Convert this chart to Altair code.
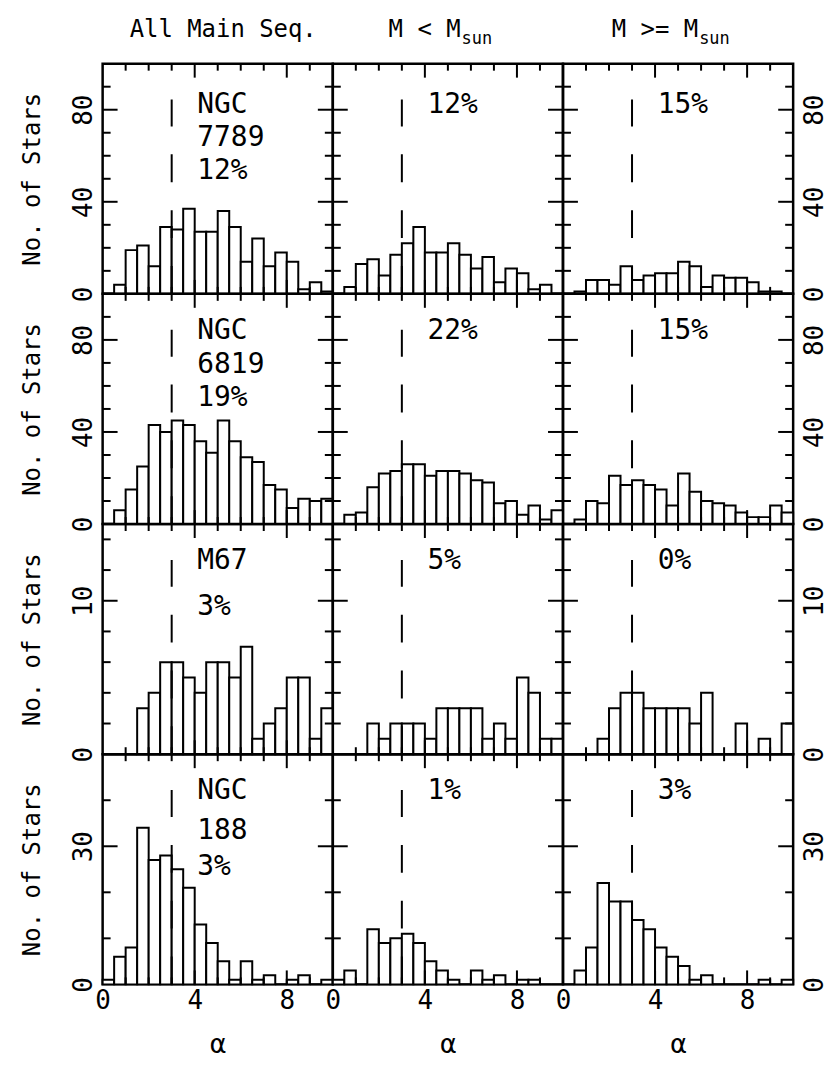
import altair as alt
import pandas as pd

FONT = "DejaVu Sans Mono"

bin_start = [i * 0.5 for i in range(20)]
bin_end = [i * 0.5 + 0.5 for i in range(20)]

ngc7789_all = [0, 4, 19, 21, 12, 29, 28, 37, 27, 27, 36, 29, 14, 24, 12, 18, 14, 2, 5, 1]
ngc7789_low = [0, 3, 13, 15, 8, 17, 22, 29, 18, 18, 22, 17, 11, 16, 5, 11, 9, 2, 4, 0]
ngc7789_high = [0, 1, 6, 6, 4, 12, 6, 8, 9, 9, 14, 12, 3, 8, 7, 7, 5, 1, 1, 0]

ngc6819_all = [0, 6, 15, 25, 43, 40, 45, 43, 36, 31, 45, 36, 29, 27, 17, 15, 7, 11, 10, 11]
ngc6819_low = [0, 4, 5, 16, 22, 23, 26, 26, 21, 23, 23, 22, 19, 18, 9, 10, 4, 8, 2, 6]
ngc6819_high = [0, 2, 10, 9, 21, 17, 19, 17, 15, 8, 22, 14, 10, 9, 8, 5, 3, 3, 8, 5]

m67_all = [0, 0, 0, 3, 4, 6, 6, 5, 4, 6, 6, 5, 7, 1, 2, 3, 5, 5, 1, 3]
m67_low = [0, 0, 0, 2, 1, 2, 2, 2, 1, 3, 3, 3, 3, 1, 2, 1, 5, 4, 1, 1]
m67_high = [0, 0, 0, 1, 3, 4, 4, 3, 3, 3, 3, 2, 4, 0, 0, 2, 0, 1, 0, 2]

ngc188_all = [1, 6, 8, 34, 27, 28, 25, 21, 13, 9, 5, 1, 5, 1, 2, 0, 1, 2, 0, 1]
ngc188_low = [1, 3, 0, 12, 9, 10, 11, 9, 5, 3, 1, 0, 3, 1, 2, 0, 1, 1, 0, 0]
ngc188_high = [0, 3, 8, 22, 18, 18, 14, 12, 8, 6, 4, 1, 2, 0, 0, 0, 0, 1, 0, 1]

counts = [
    [ngc7789_all, ngc7789_low, ngc7789_high],
    [ngc6819_all, ngc6819_low, ngc6819_high],
    [m67_all, m67_low, m67_high],
    [ngc188_all, ngc188_low, ngc188_high],
]

annotations = [
    [["NGC", "7789", "12%"], ["12%"], ["15%"]],
    [["NGC", "6819", "19%"], ["22%"], ["15%"]],
    [["M67", "3%"], ["5%"], ["0%"]],
    [["NGC", "188", "3%"], ["1%"], ["3%"]],
]

y_max = [100, 100, 15, 50]
y_labels = [[0, 40, 80], [0, 40, 80], [0, 10], [0, 30]]
y_minor = [[10, 20, 30, 50, 60, 70, 90], [10, 20, 30, 50, 60, 70, 90],
           [2, 4, 6, 8, 12, 14], [10, 20, 40]]
y_major = [[40, 80], [40, 80], [10], [30]]
x_labels = [0, 4, 8]
x_minor = [1, 2, 3, 5, 6, 7, 9]
x_major = [4, 8]
alpha_cut = 3

W = 231
H = 231
text_rows = [[41, 75, 108], [37, 71, 105], [37, 83], [37, 77, 113]]


def panel(r, c):
    df = pd.DataFrame({"lo": bin_start, "hi": bin_end, "n": counts[r][c]})
    xs = alt.Scale(domain=[0, 10], nice=False, zero=False)
    ys = alt.Scale(domain=[0, y_max[r]], nice=False)

    if r == 3:
        xkw = dict(title="α",
                   axis=alt.Axis(values=x_labels, ticks=False, domain=False, grid=False,
                                 labelFontSize=26, labelPadding=3, labelFlush=False,
                                 labelFont=FONT, titleFont=FONT, titleFontSize=27,
                                 titleFontWeight="normal", titlePadding=18, format="d",
                                 labelColor="black", titleColor="black"))
    else:
        xkw = dict(axis=None)

    if c == 0:
        ykw = dict(title="No. of Stars",
                   axis=alt.Axis(orient="left", values=y_labels[r], ticks=False, domain=False,
                                 grid=False, labelAngle=270, labelAlign="center",
                                 labelBaseline="bottom", labelFontSize=26, labelPadding=6,
                                 labelFlush=False, labelFont=FONT, titleFont=FONT,
                                 titleFontSize=24, titleFontWeight="normal", titlePadding=26,
                                 format="d", labelColor="black", titleColor="black"))
    elif c == 2:
        ykw = dict(title="",
                   axis=alt.Axis(orient="right", values=y_labels[r], ticks=False, domain=False,
                                 grid=False, labelAngle=270, labelAlign="center",
                                 labelBaseline="top", labelFontSize=26, labelPadding=8,
                                 labelFlush=False, labelFont=FONT, format="d",
                                 labelColor="black"))
    else:
        ykw = dict(axis=None)

    ticks = []
    for vals, ln in ((x_minor, 7), (x_major, 14)):
        d = pd.DataFrame({"t": vals})
        ticks.append(alt.Chart(d).mark_rule(color="black", strokeWidth=2).encode(
            x=alt.X("t:Q", scale=xs, **xkw), y=alt.value(H), y2=alt.value(H - ln)))
        ticks.append(alt.Chart(d).mark_rule(color="black", strokeWidth=2).encode(
            x=alt.X("t:Q", scale=xs, **xkw), y=alt.value(0), y2=alt.value(ln)))
    for vals, ln in ((y_minor[r], 8), (y_major[r], 15)):
        d = pd.DataFrame({"t": vals})
        ticks.append(alt.Chart(d).mark_rule(color="black", strokeWidth=2).encode(
            y=alt.Y("t:Q", scale=ys, **ykw), x=alt.value(0), x2=alt.value(ln)))
        ticks.append(alt.Chart(d).mark_rule(color="black", strokeWidth=2).encode(
            y=alt.Y("t:Q", scale=ys, **ykw), x=alt.value(W - ln), x2=alt.value(W)))

    bars = alt.Chart(df).mark_bar(fill="white", stroke="black", strokeWidth=2, opacity=1).encode(
        x=alt.X("lo:Q", scale=xs, **xkw), x2="hi:Q",
        y=alt.Y("n:Q", scale=ys, **ykw), y2=alt.datum(0))

    dash = alt.Chart(pd.DataFrame({"a": [alpha_cut]})).mark_rule(
        color="black", strokeWidth=2, strokeDash=[28, 28]).encode(
        x=alt.X("a:Q", scale=xs, **xkw), y=alt.value(H), y2=alt.value(36))

    texts = []
    lines = annotations[r][c]
    ys_pos = text_rows[r] if c == 0 else [text_rows[r][0]]
    for line, yp in zip(lines, ys_pos):
        texts.append(alt.Chart(pd.DataFrame({"s": [line]})).mark_text(
            align="left", baseline="middle", fontSize=28, font=FONT, color="black").encode(
            x=alt.value(95), y=alt.value(yp), text="s:N"))

    if r == 0:
        if c == 0:
            texts.append(alt.Chart(pd.DataFrame({"s": ["All Main Seq."]})).mark_text(
                align="center", baseline="middle", fontSize=24, font=FONT, color="black").encode(
                x=alt.value(121), y=alt.value(-34), text="s:N"))
        else:
            main = "M < M" if c == 1 else "M >= M"
            x0 = 56 if c == 1 else 49
            texts.append(alt.Chart(pd.DataFrame({"s": [main]})).mark_text(
                align="left", baseline="middle", fontSize=24, font=FONT, color="black").encode(
                x=alt.value(x0), y=alt.value(-34), text="s:N"))
            sub_x = x0 + len(main) * 24 * 0.602 + 1
            texts.append(alt.Chart(pd.DataFrame({"s": ["sun"]})).mark_text(
                align="left", baseline="middle", fontSize=17, font=FONT, color="black").encode(
                x=alt.value(sub_x), y=alt.value(-25), text="s:N"))

    layers = [bars, dash] + ticks + texts
    return alt.layer(*layers).properties(width=W, height=H)


panels = [panel(r, c) for r in range(4) for c in range(3)]
chart = alt.concat(*panels, columns=3, spacing=0, bounds="flush").properties(
    padding={"left": 19, "top": 14, "right": 5, "bottom": 5}
).configure(font=FONT).configure_view(stroke="black", strokeWidth=2.5)

chart.save("out.html", embed_options={"renderer": "svg", "actions": False})
